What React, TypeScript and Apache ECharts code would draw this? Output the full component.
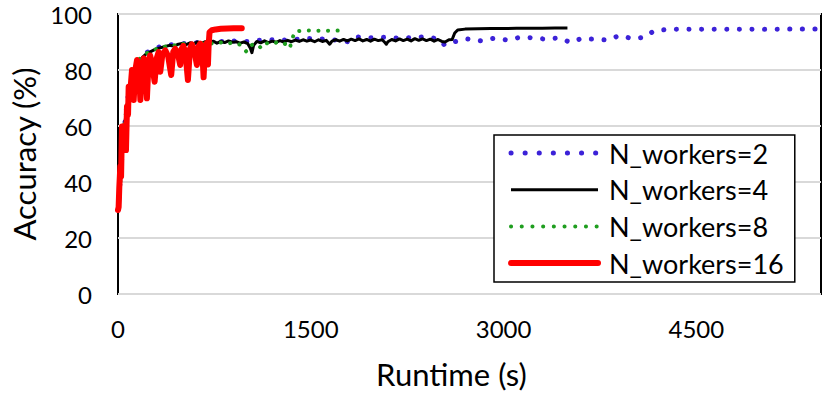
import { useEffect, useRef } from "react";
import * as echarts from "echarts";

const seriesNames = ["N_workers=2", "N_workers=4", "N_workers=8", "N_workers=16"];
const seriesColors = ["#3c22d8", "#000000", "#1f9e1f", "#ff0000"];
const xTickStep = 1500;
const xMax = 5470;
const yTickStep = 20;
const yMax = 100;

// N_workers=2
const n2Data: [number, number][] = [
  [0, 30], [10, 36], [25, 46], [40, 55], [60, 64], [80, 71], [100, 76], [130, 80],
  [160, 83], [200, 85.5], [250, 87], [300, 88], [380, 88.8], [460, 89.3], [540, 89.6],
  [620, 89.8], [700, 90], [800, 90.2], [900, 90.4], [1000, 90.2], [1100, 90.6],
  [1200, 90.8], [1300, 90.7], [1400, 91], [1453, 91.3], [1550, 91.2], [1650, 90.9],
  [1750, 90.5], [1788, 90.1], [1850, 91.9], [1950, 91.5], [2088, 91.7], [2200, 91.3],
  [2300, 91.7], [2400, 91.9], [2500, 91], [2541, 88.9], [2619, 90.1], [2717, 91.1],
  [2823, 90.4], [2924, 91.3], [3028, 90.7], [3131, 91.7], [3230, 91.5], [3328, 91],
  [3429, 91.5], [3520, 89.9], [3608, 91.3], [3704, 91], [3802, 90.7], [3903, 92.3],
  [4004, 91.2], [4097, 91.7], [4167, 93.9], [4276, 94.5], [4400, 94.6], [4600, 94.5],
  [4800, 94.6], [5000, 94.5], [5200, 94.6], [5470, 94.6],
];

// N_workers=4
const n4Data: [number, number][] = [
  [0, 30], [10, 30.5], [18, 38], [26, 46], [34, 51], [44, 56], [56, 62], [70, 67],
  [85, 72], [100, 75.5], [120, 78.5], [140, 81], [165, 83], [190, 84.5], [220, 85.8],
  [250, 86.5], [285, 87.3], [320, 87.8], [360, 88.3], [400, 88.8], [440, 88.6],
  [470, 89.2], [500, 89.5], [530, 89.1], [560, 89.7], [590, 89.4], [620, 90], [650, 89.5],
  [680, 90.1], [710, 89.7], [740, 90.3], [770, 89.6], [800, 90.2], [830, 89.8],
  [860, 90.4], [890, 89.9], [920, 90.1], [950, 89.6], [980, 90], [1010, 89.4],
  [1030, 87.8], [1042, 86.2], [1055, 88.8], [1080, 90.2], [1110, 89.7], [1140, 90.4],
  [1170, 89.8], [1200, 90.3], [1230, 89.9], [1260, 90.5], [1290, 90], [1320, 90.6],
  [1350, 90.1], [1380, 90.7], [1410, 90.2], [1440, 90.8], [1470, 90.3], [1500, 90.7],
  [1530, 90.1], [1560, 90.8], [1590, 90.2], [1620, 90.6], [1647, 89.2], [1665, 90.3],
  [1695, 90.8], [1725, 90.3], [1755, 90.9], [1785, 90.4], [1815, 91], [1845, 90.5],
  [1875, 91.1], [1905, 90.4], [1935, 90.9], [1965, 90.3], [1995, 91], [2025, 90.5],
  [2055, 90.8], [2075, 89.9], [2088, 89.2], [2100, 90.1], [2130, 90.9], [2160, 90.4],
  [2190, 91.1], [2220, 90.5], [2250, 91], [2280, 90.4], [2310, 91.2], [2340, 90.6],
  [2370, 91.1], [2400, 90.5], [2430, 91], [2460, 90.3], [2490, 90.9], [2520, 90.2],
  [2545, 90], [2575, 90.8], [2600, 90.9], [2620, 93.2], [2643, 94.3], [2700, 94.6],
  [2800, 94.7], [2900, 94.8], [3000, 94.8], [3100, 94.9], [3200, 94.9], [3300, 94.9],
  [3400, 95], [3497, 95],
];

// N_workers=8
const n8Data: [number, number][] = [
  [0, 30], [12, 36], [25, 46], [40, 56], [60, 64], [85, 72], [110, 78], [140, 82],
  [170, 84], [200, 85.3], [240, 86.5], [290, 87.4], [330, 88], [380, 88.5],
  [430, 88.9], [470, 88.5], [510, 89.4], [560, 89.6], [610, 89], [660, 89.6],
  [710, 89.8], [750, 89.2], [782, 89.6], [820, 90], [860, 89.5], [900, 89.8],
  [940, 89.3], [970, 88.2], [1000, 86.5], [1030, 88.6], [1060, 89.4], [1090, 88.9],
  [1116, 87.7], [1145, 89.3], [1180, 89.9], [1215, 89.5], [1250, 90.2], [1280, 89.7],
  [1310, 89.1], [1336, 87.7], [1352, 90.5], [1375, 93.7], [1420, 94], [1480, 94.1],
  [1540, 94], [1600, 94.1], [1660, 94], [1720, 94.1], [1770, 94],
];

// N_workers=16
const n16Data: [number, number][] = [
  [0, 30], [5, 31], [10, 38], [18, 45.5], [24, 42], [31, 59.8], [38, 52], [45, 60],
  [55, 58], [62, 51.4], [70, 67], [78, 64], [83, 74], [95, 72], [109, 80], [115, 78],
  [122, 69.3], [135, 80], [148, 83.6], [160, 82], [174, 69.3], [185, 80], [200, 84.2],
  [212, 82], [225, 69.9], [238, 83], [250, 85.2], [265, 82], [285, 75.8], [300, 84],
  [316, 86.4], [322, 84], [329, 79.4], [345, 85.5], [368, 87], [390, 85], [414, 78.2],
  [430, 86.5], [445, 87.6], [465, 86], [484, 81.8], [495, 87.5], [508, 88.6], [525, 86],
  [544, 76.4], [560, 87.5], [575, 89.2], [595, 86.5], [614, 81.8], [628, 88.5], [640, 89.4],
  [655, 87.5], [666, 77.4], [678, 88.5], [690, 89.6], [700, 82], [705, 88.5], [712, 93.5],
  [730, 94.2], [760, 94.5], [800, 94.7], [850, 94.8], [900, 94.9], [963, 94.9],
];

const FONT = "Lato, 'Noto Sans', sans-serif";

export default function App() {
  const ref = useRef<HTMLDivElement>(null);

  useEffect(() => {
    document.body.style.margin = "0";
    if (!ref.current) return;
    const chart = echarts.init(ref.current, null, { renderer: "svg" });

    const dataSets = [n2Data, n4Data, n8Data, n16Data];
    const lineStyles: any[] = [
      { width: 5, type: [0.1, 12.5], cap: "round", color: seriesColors[0] },
      { width: 3, type: "solid", join: "round", color: seriesColors[1] },
      { width: 4, type: [0.1, 9.5], cap: "round", color: seriesColors[2] },
      { width: 6, type: "solid", join: "round", cap: "round", color: seriesColors[3] },
    ];
    const legendLineStyles: any[] = [
      { width: 5, type: [0.1, 14], cap: "round", color: seriesColors[0] },
      { width: 3, type: "solid", color: seriesColors[1] },
      { width: 4, type: [0.1, 10.6], cap: "round", color: seriesColors[2] },
      { width: 6, type: "solid", cap: "round", color: seriesColors[3] },
    ];

    chart.setOption({
      animation: false,
      textStyle: { fontFamily: FONT, color: "#000" },
      grid: {
        left: 118,
        right: 9,
        top: 14,
        bottom: 103,
        show: true,
        borderColor: "#000",
        borderWidth: 2,
        backgroundColor: "transparent",
      },
      legend: {
        orient: "vertical",
        left: 494,
        top: 135,
        padding: [4, 11, 5, 14],
        itemGap: 8.7,
        itemWidth: 87,
        itemHeight: 14,
        borderColor: "#000",
        borderWidth: 1.5,
        backgroundColor: "#fff",
        itemStyle: { opacity: 0 },
        textStyle: { fontFamily: FONT, fontSize: 27, color: "#000", padding: [0, 0, 0, 6], lineHeight: 28 },
        data: seriesNames.map((name, i) => ({ name, lineStyle: legendLineStyles[i] })),
      },
      xAxis: {
        type: "value",
        min: 0,
        max: xMax,
        interval: xTickStep,
        axisLine: { show: false },
        axisTick: { show: false },
        splitLine: { show: false },
        axisLabel: {
          fontFamily: FONT,
          fontSize: 24,
          color: "#000",
          margin: 22,
          showMaxLabel: false,
          formatter: (v: number) => String(v),
        },
        name: "Runtime (s)",
        nameLocation: "middle",
        nameGap: 64,
        nameTextStyle: { fontFamily: FONT, fontSize: 31, color: "#000", padding: [0, 36, 0, 0] },
      },
      yAxis: {
        type: "value",
        min: 0,
        max: yMax,
        interval: yTickStep,
        axisLine: { show: false },
        axisTick: { show: false },
        splitLine: { lineStyle: { color: "#d9d9d9", width: 2 } },
        axisLabel: { fontFamily: FONT, fontSize: 24, color: "#000", margin: 26 },
        name: "Accuracy (%)",
        nameLocation: "middle",
        nameRotate: 90,
        nameGap: 76,
        nameTextStyle: { fontFamily: FONT, fontSize: 31, color: "#000" },
      },
      series: seriesNames.map((name, i) => ({
        name,
        type: "line",
        data: dataSets[i],
        symbol: "none",
        showSymbol: false,
        lineStyle: lineStyles[i],
        itemStyle: { color: seriesColors[i] },
        emphasis: { disabled: true },
      })),
    });

    return () => chart.dispose();
  }, []);

  return <div ref={ref} style={{ width: 830, height: 397 }} />;
}
